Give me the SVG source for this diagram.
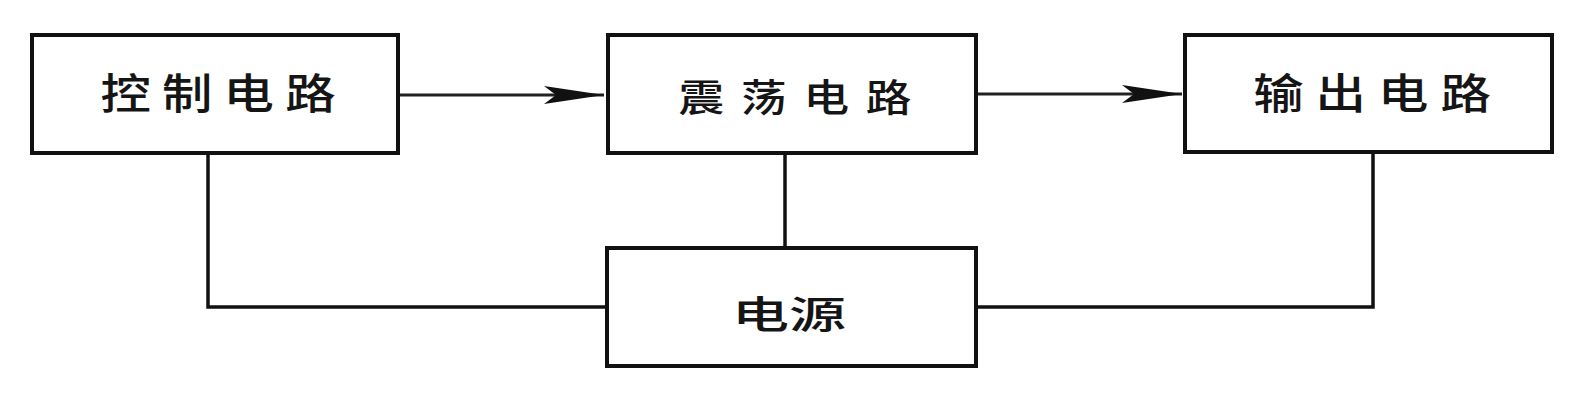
<svg xmlns="http://www.w3.org/2000/svg" width="1578" height="407" viewBox="0 0 1578 407">
<style>
.box{fill:#fff;stroke:#111;stroke-width:4}
.lbl{font-family:"Noto Sans CJK SC","Noto Sans",sans-serif;font-weight:500;fill:#151515;text-anchor:middle}
.wire{fill:none;stroke:#111;stroke-width:3.5}
.arr{fill:none;stroke:#222;stroke-width:3}
</style>
<defs>
<marker id="ah" markerUnits="userSpaceOnUse" markerWidth="60" markerHeight="20" viewBox="0 0 60 20" refX="60" refY="10" orient="auto">
<path d="M0,1 L60,10 L0,19 L12,10 Z" fill="#111"/>
</marker>
</defs>
<rect width="1578" height="407" fill="#fff"/>
<g id="connectors">
<line class="arr" x1="398" y1="95" x2="604" y2="95" marker-end="url(#ah)"/>
<line class="arr" x1="976" y1="94" x2="1182" y2="94" marker-end="url(#ah)"/>
<path class="wire" d="M208,153 V307 H607"/>
<path class="wire" d="M785,153 V248"/>
<path class="wire" d="M976,307 H1373 V152"/>
</g>
<g id="control">
<rect class="box" x="32" y="35" width="366" height="118"/>
<text class="lbl" font-size="42" transform="translate(218,109) scale(1.2,1)" x="0" y="0" textLength="196" lengthAdjust="spacing">控制电路</text>
</g>
<g id="oscillator">
<rect class="box" x="608" y="35" width="368" height="118"/>
<text class="lbl" font-size="38" transform="translate(795,110.5) scale(1.2,1)" x="0" y="0" textLength="194" lengthAdjust="spacing">震荡电路</text>
</g>
<g id="output">
<rect class="box" x="1185" y="35" width="367" height="117"/>
<text class="lbl" font-size="42" transform="translate(1372,108.8) scale(1.2,1)" x="0" y="0" textLength="198" lengthAdjust="spacing">输出电路</text>
</g>
<g id="power">
<rect class="box" x="607" y="248" width="369" height="118"/>
<text class="lbl" font-size="38" transform="translate(789,327.5) scale(1.5,1)" x="0" y="0">电源</text>
</g>
</svg>
